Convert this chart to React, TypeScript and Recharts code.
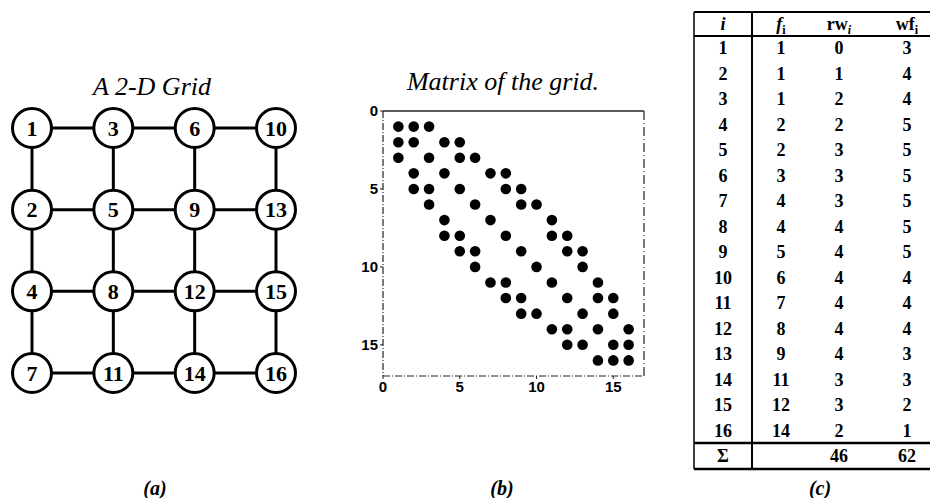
import React from 'react';
import { ScatterChart, Scatter, XAxis, YAxis, ReferenceLine } from 'recharts';

// ---- data ----
const gridRows: number[][] = [
  [1, 3, 6, 10],
  [2, 5, 9, 13],
  [4, 8, 12, 15],
  [7, 11, 14, 16],
];

// nonzero columns in each row of the 16x16 matrix
const matrixRows: number[][] = [
  [1, 2, 3],
  [1, 2, 4, 5],
  [1, 3, 5, 6],
  [2, 4, 7, 8],
  [2, 3, 5, 8, 9],
  [3, 6, 9, 10],
  [4, 7, 11],
  [4, 5, 8, 11, 12],
  [5, 6, 9, 12, 13],
  [6, 10, 13],
  [7, 8, 11, 14],
  [8, 9, 12, 14, 15],
  [9, 10, 13, 15],
  [11, 12, 14, 16],
  [12, 13, 15, 16],
  [14, 15, 16],
];
const matrixTicks = [0, 5, 10, 15];
const matrixDomain: [number, number] = [0, 17];

const tableI = [1, 2, 3, 4, 5, 6, 7, 8, 9, 10, 11, 12, 13, 14, 15, 16];
const tableF = [1, 1, 1, 2, 2, 3, 4, 4, 5, 6, 7, 8, 9, 11, 12, 14];
const tableRw = [0, 1, 2, 2, 3, 3, 3, 4, 4, 4, 4, 4, 4, 3, 3, 2];
const tableWf = [3, 4, 4, 5, 5, 5, 5, 5, 5, 4, 4, 4, 3, 3, 2, 1];
const sumRw = 46;
const sumWf = 62;

const titles = { grid: 'A 2-D Grid', matrix: 'Matrix of the grid.' };
const panelLabels = ['(a)', '(b)', '(c)'];

// ---- derived ----
const gridNodes = gridRows.flatMap((row, r) => row.map((label, c) => ({ x: c, y: r, label })));
const rowLines = gridRows.map((row, r) => row.map((_, c) => ({ x: c, y: r })));
const colLines = gridRows[0].map((_, c) => gridRows.map((__, r) => ({ x: c, y: r })));
const matrixPoints = matrixRows.flatMap((cols, r) => cols.map((c) => ({ x: c, y: r + 1 })));

const SERIF = '"Liberation Serif", "DejaVu Serif", serif';
const SANS = '"Liberation Sans", Arial, sans-serif';

const NoShape = () => <g />;

const NodeShape = (props: any) => {
  const { cx, cy, payload } = props;
  return (
    <g>
      <circle cx={cx} cy={cy} r={19.5} fill="#fff" stroke="#000" strokeWidth={3} />
      <text
        x={cx}
        y={cy + 7.5}
        textAnchor="middle"
        fontFamily={SERIF}
        fontWeight="bold"
        fontSize={22}
        fill="#000"
      >
        {payload.label}
      </text>
    </g>
  );
};

const DotShape = (props: any) => {
  const { cx, cy } = props;
  return <circle cx={cx} cy={cy} r={5.3} fill="#000" />;
};

const tickStyle = { fontFamily: SANS, fontWeight: 'bold' as const, fontSize: 15, fill: '#000' };

function GridPanel() {
  return (
    <ScatterChart width={310} height={300} margin={{ top: 28, right: 34, bottom: 27, left: 32 }}>
      <XAxis type="number" dataKey="x" domain={[0, 3]} hide />
      <YAxis type="number" dataKey="y" domain={[0, 3]} reversed hide />
      {rowLines.map((d, i) => (
        <Scatter
          key={'r' + i}
          data={d}
          line={{ stroke: '#000', strokeWidth: 3 }}
          shape={NoShape}
          isAnimationActive={false}
        />
      ))}
      {colLines.map((d, i) => (
        <Scatter
          key={'c' + i}
          data={d}
          line={{ stroke: '#000', strokeWidth: 3 }}
          shape={NoShape}
          isAnimationActive={false}
        />
      ))}
      <Scatter data={gridNodes} shape={NodeShape} isAnimationActive={false} />
    </ScatterChart>
  );
}

function MatrixPanel() {
  return (
    <ScatterChart width={330} height={350} margin={{ top: 51, right: 26, bottom: 9, left: 13 }}>
      <XAxis
        type="number"
        dataKey="x"
        domain={matrixDomain}
        ticks={matrixTicks}
        tickSize={3}
        height={25}
        axisLine={{ stroke: '#222', strokeWidth: 1.2, strokeDasharray: '7 2 1 2' }}
        tickLine={{ stroke: '#222' }}
        tick={tickStyle}
        allowDataOverflow
      />
      <YAxis
        type="number"
        dataKey="y"
        domain={matrixDomain}
        reversed
        ticks={matrixTicks}
        tickSize={3}
        width={30}
        axisLine={{ stroke: '#222', strokeWidth: 1.2, strokeDasharray: '7 2 1 2' }}
        tickLine={{ stroke: '#222' }}
        tick={tickStyle}
        allowDataOverflow
      />
      <ReferenceLine y={matrixDomain[0]} stroke="#222" strokeWidth={1.4} ifOverflow="visible" />
      <ReferenceLine
        x={matrixDomain[1]}
        stroke="#222"
        strokeWidth={1.2}
        strokeDasharray="9 3 1 3"
        ifOverflow="visible"
      />
      <Scatter data={matrixPoints} shape={DotShape} isAnimationActive={false} />
    </ScatterChart>
  );
}

function TablePanel() {
  const left = 694;
  const right = 930;
  const sep = 752;
  const colX = { i: 723, f: 781, rw: 839, wf: 907 };
  const top = 12;
  const headY = 24;
  const headLine = 36;
  const row0 = 48;
  const rowStep = 25.5;
  const sumLine = 443;
  const sumY = 456;
  const bottom = 469;
  const txt = (x: number, y: number, s: React.ReactNode, key?: string) => (
    <text
      key={key}
      x={x}
      y={y + 6}
      textAnchor="middle"
      fontFamily={SERIF}
      fontWeight="bold"
      fontSize={18}
      fill="#000"
    >
      {s}
    </text>
  );
  return (
    <svg width={930} height={498} style={{ position: 'absolute', left: 0, top: 0 }}>
      <line x1={left} x2={right} y1={top} y2={top} stroke="#000" strokeWidth={2} />
      <line x1={left} x2={right} y1={headLine} y2={headLine} stroke="#000" strokeWidth={2} />
      <line x1={left} x2={right} y1={sumLine} y2={sumLine} stroke="#000" strokeWidth={2.5} />
      <line x1={left} x2={right} y1={bottom} y2={bottom} stroke="#000" strokeWidth={2.5} />
      <line x1={left} x2={left} y1={top} y2={bottom} stroke="#000" strokeWidth={1.5} />
      <line x1={sep} x2={sep} y1={top} y2={bottom} stroke="#000" strokeWidth={2} />
      {txt(colX.i, headY, <tspan fontStyle="italic">i</tspan>, 'hi')}
      {txt(
        colX.f,
        headY,
        <>
          <tspan fontStyle="italic">f</tspan>
          <tspan fontSize={12} dy={4}>i</tspan>
        </>,
        'hf'
      )}
      {txt(
        colX.rw,
        headY,
        <>
          <tspan>rw</tspan>
          <tspan fontSize={12} dy={4} fontStyle="italic">i</tspan>
        </>,
        'hrw'
      )}
      {txt(
        colX.wf,
        headY,
        <>
          <tspan>wf</tspan>
          <tspan fontSize={12} dy={4}>i</tspan>
        </>,
        'hwf'
      )}
      {tableI.map((v, k) => txt(colX.i, row0 + k * rowStep, v, 'i' + k))}
      {tableF.map((v, k) => txt(colX.f, row0 + k * rowStep, v, 'f' + k))}
      {tableRw.map((v, k) => txt(colX.rw, row0 + k * rowStep, v, 'rw' + k))}
      {tableWf.map((v, k) => txt(colX.wf, row0 + k * rowStep, v, 'wf' + k))}
      {txt(colX.i, sumY, 'Σ', 'sig')}
      {txt(colX.rw, sumY, sumRw, 'srw')}
      {txt(colX.wf, sumY, sumWf, 'swf')}
    </svg>
  );
}

export default function App() {
  const labelStyle: React.CSSProperties = {
    position: 'absolute',
    top: 476,
    width: 60,
    marginLeft: -30,
    textAlign: 'center',
    fontFamily: SERIF,
    fontStyle: 'italic',
    fontWeight: 'bold',
    fontSize: 20,
    lineHeight: '24px',
    color: '#000',
  };
  const titleStyle: React.CSSProperties = {
    position: 'absolute',
    width: 300,
    marginLeft: -150,
    textAlign: 'center',
    fontFamily: SERIF,
    fontStyle: 'italic',
    fontSize: 26,
    lineHeight: '30px',
    color: '#000',
  };
  return (
    <div style={{ position: 'absolute', left: 0, top: 0, width: 930, height: 498, background: '#fff', overflow: 'hidden' }}>
      <div style={{ ...titleStyle, left: 152, top: 72 }}>{titles.grid}</div>
      <div style={{ ...titleStyle, left: 503, top: 67 }}>{titles.matrix}</div>
      <div style={{ position: 'absolute', left: 0, top: 100 }}>
        <GridPanel />
      </div>
      <div style={{ position: 'absolute', left: 340, top: 60 }}>
        <MatrixPanel />
      </div>
      <TablePanel />
      <div style={{ ...labelStyle, left: 155 }}>{panelLabels[0]}</div>
      <div style={{ ...labelStyle, left: 502 }}>{panelLabels[1]}</div>
      <div style={{ ...labelStyle, left: 820 }}>{panelLabels[2]}</div>
    </div>
  );
}
